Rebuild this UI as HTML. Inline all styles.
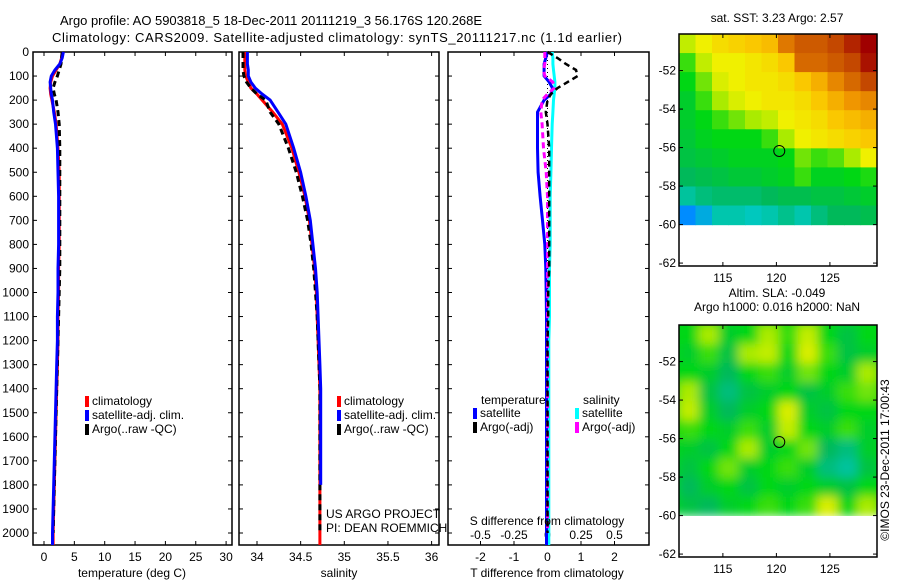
<!DOCTYPE html>
<html><head><meta charset="utf-8"><style>
html,body{margin:0;padding:0;background:#fff;}
svg{display:block;font-family:"Liberation Sans",Arial,sans-serif;}
</style></head><body>
<svg id="fig" width="900" height="580" viewBox="0 0 900 580">
<defs>
<filter id="blur2" x="-5%" y="-5%" width="110%" height="110%"><feGaussianBlur stdDeviation="5"/></filter>
<clipPath id="clip2"><rect x="679" y="325" width="198" height="191"/></clipPath>
</defs>
<text x="60" y="25" font-size="13" textLength="422">Argo profile: AO 5903818_5 18-Dec-2011 20111219_3 56.176S 120.268E</text>
<text x="52" y="42" font-size="13" textLength="570">Climatology: CARS2009. Satellite-adjusted climatology: synTS_20111217.nc (1.1d earlier)</text>
<g id="p1"></g>
<g id="p2"></g>
<g id="p3"></g>
<g id="m1"></g>
<g id="m2"></g>
<text transform="translate(889,460) rotate(-90)" font-size="12" text-anchor="middle">©IMOS 23-Dec-2011 17:00:43</text>
</svg>
<script>
const depth=[0,25,50,75,100,125,150,175,200,250,300,400,500,600,700,800,900,1000,1100,1200,1300,1400,1500,1600,1700,1800,1900,2000,2050];
const climT=[3.0,2.9,2.6,2.0,1.4,1.1,1.0,1.1,1.3,1.7,2.0,2.3,2.5,2.5,2.5,2.5,2.4,2.4,2.3,2.3,2.2,2.1,2.0,1.9,1.8,1.7,1.6,1.5,1.5];
const satT=[3.2,3.0,2.6,1.8,1.2,1.0,1.1,1.2,1.4,1.6,1.9,2.2,2.3,2.4,2.4,2.4,2.3,2.3,2.2,2.2,2.1,2.0,1.9,1.8,1.7,1.6,1.5,1.4,1.4];
const argoT=[3.0,2.9,2.8,2.5,2.2,1.8,1.5,1.7,2.0,2.3,2.5,2.6,2.6,2.6,2.6,2.6,2.6,2.5,2.4,2.3,2.2,2.1,2.0,1.9,1.8,1.7,1.6,1.5,null];
const climS=[33.86,33.86,33.86,33.86,33.87,33.9,33.93,34.0,34.06,34.18,34.29,34.40,34.48,34.55,34.60,34.63,34.66,34.68,34.69,34.70,34.71,34.72,34.72,34.72,34.72,34.72,34.72,34.72,34.72];
const satS=[33.89,33.89,33.89,33.9,33.9,33.93,33.98,34.06,34.15,34.24,34.33,34.42,34.50,34.56,34.61,34.64,34.67,34.69,34.70,34.71,34.72,34.73,34.73,34.73,34.73,34.73,34.73,34.73,34.73];
const argoS=[33.84,33.84,33.84,33.84,33.85,33.88,33.93,34.0,34.1,34.15,34.25,34.36,34.45,34.52,34.58,34.62,34.65,34.67,34.69,34.70,34.71,34.72,34.72,34.72,34.72,34.72,34.72,34.72,null];
const dTsat=[0,-0.05,-0.1,-0.1,-0.1,0.05,0.15,0.1,-0.1,-0.3,-0.3,-0.3,-0.28,-0.22,-0.15,-0.08,-0.05,-0.04,-0.03,-0.03,-0.03,-0.03,-0.03,-0.03,-0.03,-0.03,-0.03,-0.03,-0.03];
const dTargo=[0,0.3,0.55,0.85,0.9,0.6,0.3,0.1,0.0,-0.05,0,0.05,0.05,0.05,0.05,0.05,0.05,0.02,0.02,0,0,0,0,0,0,0,0,0,null];
const dSsat=[0.035,0.04,0.04,0.045,0.05,0.055,0.055,0.05,0.045,0.04,0.035,0.03,0.025,0.02,0.02,0.02,0.015,0.015,0.015,0.01,0.01,0.01,0.01,0.01,0.01,0.01,0.01,0.01,0.01];
const dSargo=[-0.02,-0.02,-0.02,-0.03,-0.02,0.04,0.05,0.0,-0.04,-0.05,-0.04,-0.03,-0.01,0,0,0,0,0,0,0,0,0,0,0,0,0,0,0,null];
const depthTicks=[0,100,200,300,400,500,600,700,800,900,1000,1100,1200,1300,1400,1500,1600,1700,1800,1900,2000];
const tempTicks=[0,5,10,15,20,25,30];
const salTicks=[34,34.5,35,35.5,36];
const tdTicks=[-2,-1,0,1,2];
const sdTicks=[-0.5,-0.25,0,0.25,0.5];
const sst=[
[.58,.62,.66,.68,.70,.72,.82,.86,.86,.88,.92,.96],
[.52,.58,.62,.62,.64,.66,.70,.84,.84,.86,.88,.94],
[.50,.54,.60,.62,.64,.64,.66,.70,.74,.80,.84,.88],
[.48,.52,.56,.60,.62,.64,.64,.66,.70,.74,.78,.80],
[.48,.50,.52,.54,.56,.58,.62,.64,.66,.70,.72,.74],
[.47,.49,.50,.50,.50,.52,.56,.62,.64,.66,.68,.70],
[.46,.47,.48,.49,.49,.49,.50,.54,.52,.53,.56,.62],
[.44,.45,.46,.47,.47,.48,.49,.52,.49,.49,.50,.51],
[.40,.42,.43,.43,.43,.44,.45,.45,.46,.46,.47,.48],
[.32,.35,.39,.39,.38,.39,.41,.39,.42,.44,.44,.45]];
const sla=[
[.50,.56,.48,.50,.56,.52,.58,.50,.46,.50],
[.48,.52,.46,.56,.58,.50,.60,.52,.46,.48],
[.50,.48,.44,.50,.52,.48,.54,.50,.48,.56],
[.56,.46,.42,.46,.48,.50,.46,.48,.52,.54],
[.58,.48,.44,.48,.50,.60,.48,.46,.50,.50],
[.52,.50,.48,.52,.48,.58,.50,.48,.52,.48],
[.48,.46,.50,.56,.48,.50,.54,.44,.42,.48],
[.46,.50,.54,.48,.50,.52,.48,.42,.40,.46],
[.44,.48,.50,.46,.50,.48,.50,.48,.46,.50],
[.46,.44,.48,.50,.52,.50,.52,.60,.50,.56]];
const latTicks=[-52,-54,-56,-58,-60,-62];
const lonTicks=[115,120,125];
const argoLon=120.268, argoLat=-56.176;

const NS='http://www.w3.org/2000/svg';
function mk(p,t,a){const e=document.createElementNS(NS,t);for(const k in a)e.setAttribute(k,a[k]);p.appendChild(e);return e;}
const Y0=52,Ypm=0.2405;
function yD(d){return Y0+d*Ypm;}
function box(g,x0,x1,y0,y1){const r=mk(g,'rect',{x:x0,y:y0,width:x1-x0,height:y1-y0,fill:'none',stroke:'#000','stroke-width':1.5});}
function txt(g,x,y,s,anchor,size){const t=mk(g,'text',{x:x,y:y,'font-size':size||12,'text-anchor':anchor||'start'});t.textContent=s;return t;}
function line(g,xs,f,color,w,dash,name){let d='',pen=false;for(let i=0;i<depth.length;i++){if(xs[i]==null){pen=false;continue;}d+=(pen?'L':'M')+f(xs[i]).toFixed(1)+','+yD(depth[i]).toFixed(1);pen=true;}
const p=mk(g,'path',{d:d,fill:'none',stroke:color,'stroke-width':w});if(dash)p.setAttribute('stroke-dasharray',dash);}
function depthAxis(g,x0,x1,labels){for(const d of depthTicks){const y=yD(d);mk(g,'line',{x1:x0,x2:x0+4,y1:y,y2:y,stroke:'#000'});mk(g,'line',{x1:x1,x2:x1-4,y1:y,y2:y,stroke:'#000'});if(labels){const t=txt(g,x0-4,y+4,String(d),'end');}}}
function xAxis(g,ticks,f,y,fmt){for(const v of ticks){const x=f(v);mk(g,'line',{x1:x,x2:x,y1:545,y2:541,stroke:'#000'});mk(g,'line',{x1:x,x2:x,y1:Y0,y2:Y0+4,stroke:'#000'});const t=txt(g,x,y,fmt?fmt(v):String(v),'middle');}}
function legend(g,x,y,items){items.forEach((it,i)=>{const r=mk(g,'rect',{x:x,y:y+i*14-9,width:4,height:11,fill:it[1]});const t=txt(g,x+7,y+i*14,it[0]);});}

// Panel 1 temperature
const g1=document.getElementById('p1');const fT=v=>44+6.07*v;
box(g1,33,232,Y0,545);depthAxis(g1,33,232,true);xAxis(g1,tempTicks,fT,561);
line(g1,climT,fT,'#ff0000',3,null,'climatology-temp-line');
line(g1,argoT,fT,'#000',3,'6,4','argo-temp-line');
line(g1,satT,fT,'#0000ff',3,null,'satellite-temp-line');
txt(g1,132,577,'temperature (deg C)','middle');
legend(g1,85,405,[['climatology','#ff0000'],['satellite-adj. clim.','#0000ff'],['Argo(..raw -QC)','#000']]);

// Panel 2 salinity
const g2=document.getElementById('p2');const fS=v=>257+87.3*(v-34);
box(g2,239,439,Y0,545);depthAxis(g2,239,439,false);xAxis(g2,salTicks,fS,561);
line(g2,climS,fS,'#ff0000',3,null,'climatology-salinity-line');
line(g2,argoS,fS,'#000',3,'6,4','argo-salinity-line');
line(g2,satS.map((v,i)=>depth[i]>1850?null:v),fS,'#0000ff',3,null,'satellite-salinity-line');
txt(g2,339,577,'salinity','middle');
legend(g2,337,405,[['climatology','#ff0000'],['satellite-adj. clim.','#0000ff'],['Argo(..raw -QC)','#000']]);
txt(g2,326,518,'US ARGO PROJECT');
txt(g2,326,532,'PI: DEAN ROEMMICH');

// Panel 3 differences
const g3=document.getElementById('p3');const fTd=v=>547.5+33.5*v;const fSd=v=>547.5+134*v;
box(g3,448,649,Y0,545);depthAxis(g3,448,649,false);xAxis(g3,tdTicks,fTd,561);
for(const v of sdTicks){const t=txt(g3,fSd(v),539,String(v),'middle');}
const zl=mk(g3,'line',{x1:fTd(0),x2:fTd(0),y1:Y0,y2:330,stroke:'#000','stroke-dasharray':'1,3'});
line(g3,dSsat,fSd,'#00ffff',3,null,'satellite-salinity-diff-line');
line(g3,dTsat,fTd,'#0000ff',3,null,'satellite-temp-diff-line');
line(g3,dSargo,fSd,'#ff00ff',3,'6,4','argo-salinity-diff-line');
line(g3,dTargo,fTd,'#000',2.5,'6,4','argo-temp-diff-line');
txt(g3,547,525,'S difference from climatology','middle');
txt(g3,547,577,'T difference from climatology','middle');
txt(g3,481,404,'temperature');
txt(g3,583,404,'salinity');
legend(g3,473,417,[['satellite','#0000ff'],['Argo(-adj)','#000']]);
legend(g3,575,417,[['satellite','#00ffff'],['Argo(-adj)','#ff00ff']]);

// colormap
const cstops=[[0.25,[0,60,230]],[0.32,[0,140,255]],[0.38,[0,200,190]],[0.44,[0,185,90]],[0.5,[0,215,20]],[0.56,[170,235,0]],[0.62,[240,240,0]],[0.7,[250,200,0]],[0.78,[240,150,0]],[0.86,[205,90,0]],[0.96,[160,0,0]]];
function cmap(v){if(v<=cstops[0][0])return 'rgb('+cstops[0][1]+')';for(let i=1;i<cstops.length;i++){if(v<=cstops[i][0]){const a=cstops[i-1],b=cstops[i],t=(v-a[0])/(b[0]-a[0]);return 'rgb('+a[1].map((c,k)=>Math.round(c+(b[1][k]-c)*t)).join(',')+')';}}return 'rgb('+cstops[cstops.length-1][1]+')';}

function drawMap(id,top,grid,title1,title2,smooth){
  const g=document.getElementById(id);const L=679,R=877,B=top+232;
  const lon0=110.9,lon1=129.4,latTop=-50.1;
  const fx=v=>L+(v-lon0)*(R-L)/(lon1-lon0);const fy=v=>top+(latTop-v)*19.25;
  const rows=grid.length,cols=grid[0].length;const yEnd=fy(-60);
  const cw=(R-L)/cols,ch=(yEnd-top)/rows;
  let cg=g;
  if(smooth){const outer=mk(g,'g',{'clip-path':'url(#clip2)'});cg=mk(outer,'g',{filter:'url(#blur2)'});
    const bg=mk(cg,'rect',{x:L-20,y:top-20,width:R-L+40,height:yEnd-top+20,fill:cmap(0.5)});}
  for(let r=0;r<rows;r++)for(let c=0;c<cols;c++){const cell=mk(cg,'rect',{x:(L+c*cw).toFixed(2),y:(top+r*ch).toFixed(2),width:(cw+0.6).toFixed(2),height:(ch+0.6).toFixed(2),fill:cmap(grid[r][c])});
    
    }
  box(g,L,R,top,B);
  for(const v of latTicks){const y=fy(v);mk(g,'line',{x1:L,x2:L+4,y1:y,y2:y,stroke:'#000'});mk(g,'line',{x1:R,x2:R-4,y1:y,y2:y,stroke:'#000'});const t=txt(g,L-3,y+4,String(v),'end');}
  for(const v of lonTicks){const x=fx(v);mk(g,'line',{x1:x,x2:x,y1:B,y2:B-4,stroke:'#000'});mk(g,'line',{x1:x,x2:x,y1:top,y2:top+4,stroke:'#000'});const t=txt(g,x,B+16,String(v),'middle');}
  const c=mk(g,'circle',{cx:fx(argoLon),cy:fy(argoLat),r:5.5,fill:'none',stroke:'#000','stroke-width':1});
  
  const t1=txt(g,777,top-(title2?28:12),title1,'middle');
  if(title2){const t2=txt(g,777,top-14,title2,'middle');}
}
drawMap('m1',34,sst,'sat. SST: 3.23 Argo: 2.57',null,false);
drawMap('m2',325,sla,'Altim. SLA: -0.049','Argo h1000: 0.016 h2000: NaN',true);
</script>
</body></html>
